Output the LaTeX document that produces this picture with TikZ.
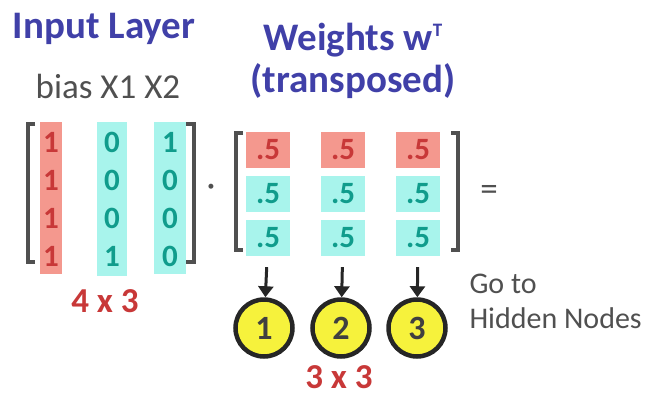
\documentclass[tikz,border=0pt]{standalone}
\usepackage{fontspec}
\setmainfont{Carlito}
\usetikzlibrary{arrows.meta}

\definecolor{titleblue}{HTML}{4040A8}
\definecolor{cellred}{HTML}{F4988E}
\definecolor{numred}{HTML}{C83838}
\definecolor{cellcyan}{HTML}{A8F4EC}
\definecolor{numteal}{HTML}{109C8C}
\definecolor{labelgray}{HTML}{505050}
\definecolor{nodeyellow}{HTML}{F6F23C}

\begin{document}
\begin{tikzpicture}[x=1pt,y=-1pt,
		title/.style={font=\fontsize{39}{42}\selectfont\bfseries, text=titleblue, align=center},
		entry/.style={font=\fontsize{31}{34}\selectfont\bfseries, inner sep=0pt},
		wcell/.style={entry, minimum width=44pt, minimum height=36pt},
		bracket/.style={draw=labelgray, line width=3.5pt},
		dims/.style={font=\fontsize{35}{38}\selectfont\bfseries, text=numred, inner sep=0pt},
		plain/.style={font=\fontsize{35}{38}\selectfont, text=labelgray},
		small/.style={font=\fontsize{30}{35}\selectfont, text=labelgray},
		hidden/.style={circle, draw=black!85, line width=4.5pt, fill=nodeyellow,
			minimum size=57pt, inner sep=0pt, font=\fontsize{34}{36}\selectfont\bfseries, text=black!75},
		arr/.style={-{Triangle[length=11pt,width=15pt]}, line width=3pt, black!85}]
	\useasboundingbox (0,0) rectangle (654,397);

	% headings
	\node[title] (inlayer) at (104,29) {Input Layer};
	\node[title] (weights) at (353,61) {Weights w\raisebox{0.75ex}{\fontsize{19}{19}\selectfont T}\\(transposed)};
	\node[plain] (cols) at (108,86) {bias X1 X2};

	% input matrix, one coloured strip per column
	\fill[cellred] (40,122) rectangle (62,274);
	\fill[cellcyan] (97,122) rectangle (127,276);
	\fill[cellcyan] (154,122) rectangle (186,274);
	\draw[bracket] (35,124) -- (28,124) -- (28,262) -- (35,262);
	\draw[bracket] (186,124) -- (194,124) -- (194,262) -- (186,262);
	\foreach \r/\y/\a/\b/\c in {1/142/1/0/1, 2/180/1/0/0, 3/218/1/0/0, 4/256/1/1/0} {
		\node[entry, text=numred] (x\r1) at (51,\y) {\a};
		\node[entry, text=numteal] (x\r2) at (112,\y) {\b};
		\node[entry, text=numteal] (x\r3) at (170,\y) {\c};
	}
	\node[dims] (indim) at (105,301) {4 x 3};

	\node[plain] (times) at (211,190) {\textperiodcentered};

	% weight matrix
	\foreach \c/\x in {1/268, 2/343, 3/418} {
		\node[wcell, fill=cellred, text=numred] (w1\c) at (\x,150) {.5};
		\node[wcell, fill=cellcyan, text=numteal] (w2\c) at (\x,194) {.5};
		\node[wcell, fill=cellcyan, text=numteal] (w3\c) at (\x,238) {.5};
	}
	\draw[bracket] (243,133) -- (236,133) -- (236,250) -- (243,250);
	\draw[bracket] (451,133) -- (458,133) -- (458,250) -- (451,250);
	\node[plain] (equals) at (489,193) {=};

	% hidden layer
	\node[hidden] (h1) at (264,328) {1};
	\node[hidden] (h2) at (341,328) {2};
	\node[hidden] (h3) at (417,328) {3};
	\draw[arr, shorten <=11pt] (w31) -- (h1);
	\draw[arr, shorten <=11pt] (w32) -- (h2);
	\draw[arr, shorten <=11pt] (w33) -- (h3);
	\node[dims] (hdim) at (339,377) {3 x 3};
	\node[small, anchor=west, align=left] (goto) at (466,301) {Go to\\Hidden Nodes};
\end{tikzpicture}
\end{document}
